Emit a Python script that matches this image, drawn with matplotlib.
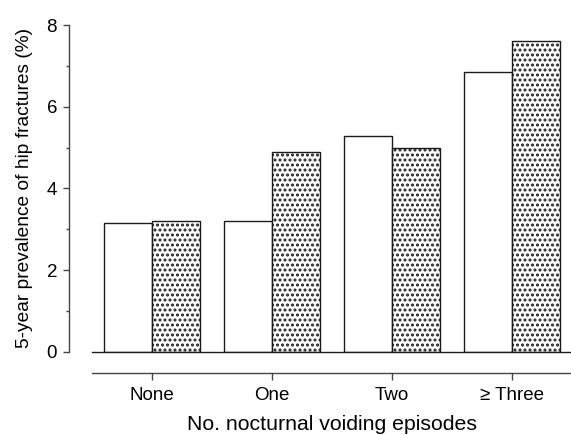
import matplotlib
matplotlib.use("Agg")
import matplotlib.pyplot as plt
import numpy as np

categories = ["None", "One", "Two", "\u2265 Three"]
series_a = [3.15, 3.19, 5.28, 6.85]   # open bars
series_b = [3.20, 4.89, 5.00, 7.60]   # dotted bars
y_ticks = [0, 2, 4, 6, 8]
x_label = "No. nocturnal voiding episodes"
y_label = "5-year prevalence of hip fractures (%)"

DPI = 90
plt.rcParams["font.family"] = ["Liberation Sans", "DejaVu Sans"]
plt.rcParams["hatch.linewidth"] = 1.6
plt.rcParams["hatch.color"] = "#1a1a1a"

fig = plt.figure(figsize=(571 / DPI, 435 / DPI), dpi=DPI)
ax = fig.add_axes([92 / 571, 1 - 351.7 / 435, 480 / 571, 326.7 / 435])

x = np.arange(len(categories))
w = 0.4
edge = "#1a1a1a"
ax.bar(x - w / 2, series_a, width=w, facecolor="white", edgecolor=edge, linewidth=1.1)
ax.bar(x + w / 2, series_b, width=w, facecolor="white", edgecolor=edge, linewidth=1.1,
       hatch="...")
ax.axhline(0, color=edge, linewidth=1.1, clip_on=False, zorder=3)

ax.set_xlim(-0.5, len(categories) - 0.5)
ax.set_ylim(0, 8)

spine_c = "#444444"
for s in ("top", "right"):
    ax.spines[s].set_visible(False)
ax.spines["left"].set_position(("outward", 22.7 * 72 / DPI))
ax.spines["bottom"].set_position(("outward", 21 * 72 / DPI))
ax.spines["left"].set_color(spine_c)
ax.spines["bottom"].set_color(spine_c)
ax.spines["left"].set_linewidth(1.1)
ax.spines["bottom"].set_linewidth(1.1)

ax.set_yticks(y_ticks)
ax.set_yticks([1, 3, 5, 7], minor=True)
ax.set_xticks(x)
ax.set_xticklabels(categories)

ax.tick_params(axis="y", which="major", length=4.8, width=1.1, color=spine_c,
               labelsize=15, pad=5)
ax.tick_params(axis="y", which="minor", length=2.4, width=1.1, color=spine_c)
ax.tick_params(axis="x", which="major", length=5.3, width=1.1, color=spine_c,
               labelsize=15, pad=6)

ax.set_xlabel(x_label, fontsize=17, labelpad=9)
ax.set_ylabel(y_label, fontsize=15.3, labelpad=11)

fig.savefig("out.png", dpi=DPI)
